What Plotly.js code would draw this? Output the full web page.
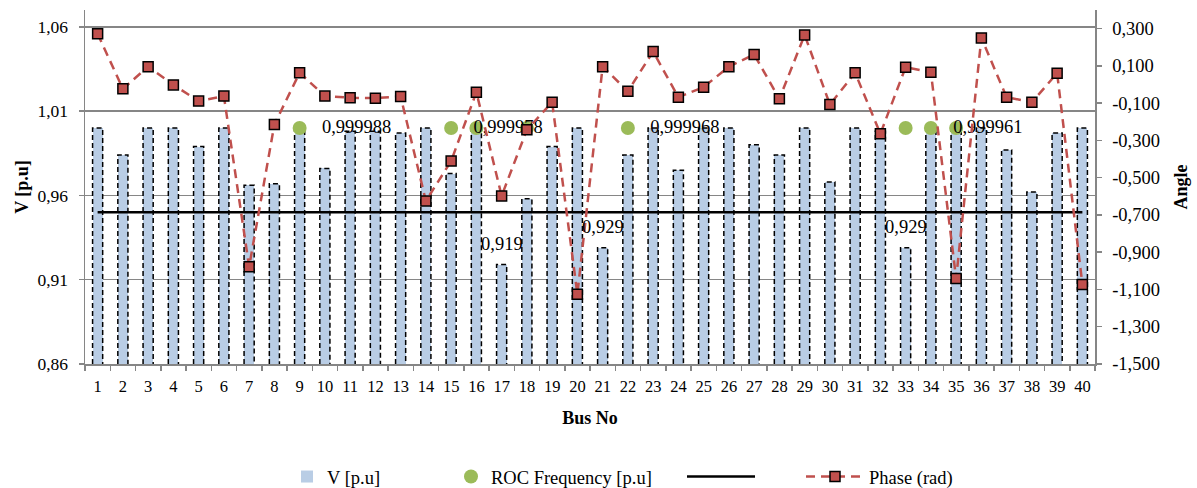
<!DOCTYPE html>
<html>
<head>
<meta charset="utf-8">
<script src="https://cdn.plot.ly/plotly-3.0.1.min.js"></script>
<style>html,body{margin:0;padding:0;background:#fff;}#chart{width:1197px;height:488px;}</style>
</head>
<body>
<div id="chart"></div>
<script>
// ---- data ----
const buses = [1,2,3,4,5,6,7,8,9,10,11,12,13,14,15,16,17,18,19,20,21,22,23,24,25,26,27,28,29,30,31,32,33,34,35,36,37,38,39,40];
const busLabels = ['1','2','3','4','5','6','7','8','9','10','11','12','13','14','15','16','17','18','19','20','21','22','23','24','25','26','27','28','29','30','31','32','33','34','35','36','37','38','39','40'];
const voltage = [1.000,0.984,1.000,1.000,0.989,1.000,0.966,0.967,1.000,0.976,0.998,0.998,0.997,1.000,0.973,0.999,0.919,0.958,0.989,1.000,0.929,0.984,1.000,0.975,1.000,1.000,0.990,0.984,1.000,0.968,1.000,0.998,0.929,1.000,1.000,1.000,0.987,0.962,0.997,1.000];
const phase = [0.272,-0.023,0.096,-0.002,-0.089,-0.062,-0.978,-0.214,0.063,-0.062,-0.071,-0.073,-0.064,-0.625,-0.411,-0.041,-0.598,-0.243,-0.095,-1.125,0.096,-0.036,0.177,-0.068,-0.014,0.096,0.161,-0.077,0.266,-0.107,0.063,-0.264,0.093,0.066,-1.041,0.250,-0.068,-0.095,0.061,-1.073];
const limitLine = [0.95,0.95,0.95,0.95,0.95,0.95,0.95,0.95,0.95,0.95,0.95,0.95,0.95,0.95,0.95,0.95,0.95,0.95,0.95,0.95,0.95,0.95,0.95,0.95,0.95,0.95,0.95,0.95,0.95,0.95,0.95,0.95,0.95,0.95,0.95,0.95,0.95,0.95,0.95,0.95];
const rocBuses = [9,15,16,18,22,33,34,35];
const rocValues = [0.999988,0.999978,0.99997,0.99997,0.999968,0.99996,0.999961,0.99996];
const rocLabels = ['0,999988','0,999978','','','0,999968','','0,999961',''];
const barLabelBuses = [17,21,33];
const leftTicks = [0.86,0.91,0.96,1.01,1.06];
const rightTicks = [0.3,0.1,-0.1,-0.3,-0.5,-0.7,-0.9,-1.1,-1.3,-1.5];
const rightTickLabels = ['0,300','0,100','-0,100','-0,300','-0,500','-0,700','-0,900','-1,100','-1,300','-1,500'];

// ---- styles ----
const FONT = 'Liberation Serif, Times New Roman, serif';
const GRID = '#868686';
const BAR_W = 0.4;
const Y_MIN = 0.86;

// dashed outline of each bar, built from the voltage values
const outX = [], outY = [];
buses.forEach((b, i) => {
  outX.push(b - BAR_W/2, b - BAR_W/2, b + BAR_W/2, b + BAR_W/2, null);
  outY.push(Y_MIN, voltage[i], voltage[i], Y_MIN, null);
});

const traces = [
  {type:'bar', x:buses, y:voltage, width:BAR_W, name:'V [p.u]', legend:'legend',
   marker:{color:'#b9cde5', line:{width:0}}, hoverinfo:'skip'},
  {type:'scatter', mode:'lines', x:outX, y:outY, showlegend:false, hoverinfo:'skip',
   line:{color:'#000', width:1.5, dash:'5px,3px'}},
  {type:'scatter', mode:'markers', x:rocBuses, y:rocValues, name:'ROC Frequency [p.u]', legend:'legend2',
   marker:{color:'#9bbb59', size:14}},
  {type:'scatter', mode:'markers+text', x:rocBuses, y:rocValues, text:rocLabels, textposition:'middle right',
   marker:{color:'rgba(0,0,0,0)', size:34}, showlegend:false, hoverinfo:'skip',
   textfont:{family:FONT, size:18.5, color:'#000'}},
  {type:'scatter', mode:'lines', x:buses, y:limitLine, name:'', legend:'legend3',
   line:{color:'#000', width:2.5}},
  {type:'scatter', mode:'lines+markers', x:buses, y:phase, name:'Phase (rad)', legend:'legend4', yaxis:'y2',
   line:{color:'#c0504d', width:2.5, dash:'9px,6px'},
   marker:{symbol:'square', size:10, color:'#c0504d', line:{color:'#000', width:1.5}}}
];

const annotations = barLabelBuses.map(b => {
  const v = voltage[buses.indexOf(b)];
  return {x:b, y:v, xref:'x', yref:'y', text:v.toFixed(3).replace('.', ','), showarrow:false,
          yanchor:'middle', yshift:21, font:{family:FONT, size:18.5, color:'#000'}};
});

const legendBase = {orientation:'h', yref:'container', xref:'container', yanchor:'middle', y:1-477/488,
  xanchor:'left', font:{family:FONT, size:18.5, color:'#000'}, bgcolor:'rgba(0,0,0,0)', borderwidth:0};

const layout = {
  width:1197, height:488,
  margin:{l:85, r:102, t:10, b:124, pad:0},
  paper_bgcolor:'#fff', plot_bgcolor:'#fff',
  separators:',.',
  font:{family:FONT, size:17, color:'#000'},
  showlegend:true,
  bargap:0,
  xaxis:{range:[0.5,40.5], tickmode:'array', tickvals:buses, ticktext:busLabels,
    ticks:'outside', ticklen:7, tickcolor:'rgba(0,0,0,0)',
    minor:{ticks:'outside', ticklen:5, tick0:0.5, dtick:1, tickcolor:GRID, tickwidth:1.5, showgrid:false},
    showline:true, linecolor:GRID, linewidth:1.5, showgrid:false, zeroline:false,
    tickfont:{family:FONT, size:16.5}, automargin:false,
    title:{text:'<b>Bus No</b>', font:{family:FONT, size:18}, standoff:16}},
  yaxis:{range:[0.86,1.07], tickmode:'array', tickvals:leftTicks, tickformat:'.2f',
    ticks:'outside', ticklen:5, tickcolor:GRID, tickwidth:1.5, ticklabelstandoff:7,
    showline:true, linecolor:GRID, linewidth:1.5, showgrid:true, gridcolor:GRID, gridwidth:1.5, zeroline:false,
    tickfont:{family:FONT, size:17.5}, automargin:false,
    title:{text:'<b>V [p.u]</b>', font:{family:FONT, size:18}, standoff:4}},
  yaxis2:{overlaying:'y', side:'right', range:[-1.5,0.4], tickmode:'array', tickvals:rightTicks, ticktext:rightTickLabels,
    ticks:'outside', ticklen:5, tickcolor:GRID, tickwidth:1.5, ticklabelstandoff:7,
    showline:true, linecolor:GRID, linewidth:1.5, showgrid:false, zeroline:false,
    tickfont:{family:FONT, size:18.5}, automargin:false,
    title:{text:'<b>Angle</b>', font:{family:FONT, size:18}, standoff:15}},
  legend:Object.assign({}, legendBase, {x:287/1197}),
  legend2:Object.assign({}, legendBase, {x:451/1197}),
  legend3:Object.assign({}, legendBase, {x:682/1197, itemwidth:68}),
  legend4:Object.assign({}, legendBase, {x:801/1197, itemwidth:58}),
  annotations:annotations
};

Plotly.newPlot('chart', traces, layout, {displayModeBar:false, staticPlot:true});
</script>
</body>
</html>
